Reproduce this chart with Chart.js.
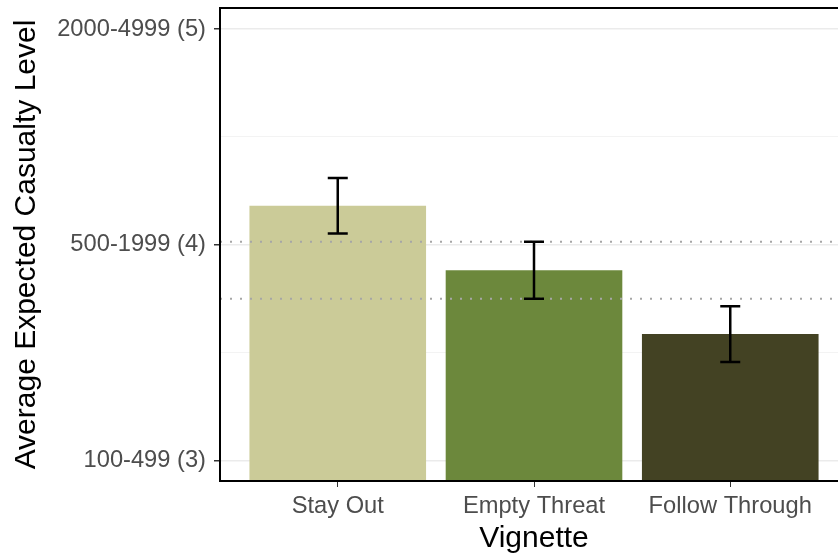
<!DOCTYPE html>
<html>
<head>
<meta charset="utf-8">
<script src="https://cdn.jsdelivr.net/npm/chart.js@4.4.0/dist/chart.umd.min.js"></script>
<style>
  html, body { margin: 0; padding: 0; background: #fff; overflow: hidden; }
  canvas { display: block; }
</style>
</head>
<body>
<canvas id="casualtyChart" width="860" height="558"></canvas>
<script>
const vignettes = ['Stay Out', 'Empty Threat', 'Follow Through'];
const meanLevel = [4.181, 3.881, 3.586];
const ciLower = [4.052, 3.749, 3.456];
const ciUpper = [4.310, 4.014, 3.715];
const barColors = ['#CBCB98', '#6C883C', '#434223'];
const levelTicks = [3, 3.5, 4, 4.5, 5];
const levelLabels = { 3: '100-499 (3)', 4: '500-1999 (4)', 5: '2000-4999 (5)' };
// the Empty Threat interval is marked across the whole panel
const refIndex = 1;

const FONT = "'Liberation Sans', Arial, sans-serif";

// error bars, reference lines and the panel frame
const overlay = {
  id: 'overlay',
  afterDatasetsDraw(chart) {
    const { ctx, chartArea: a, scales: { x, y } } = chart;
    ctx.save();

    ctx.strokeStyle = '#A6A6A6';
    ctx.lineWidth = 2;
    ctx.setLineDash([2, 8]);
    [ciLower[refIndex], ciUpper[refIndex]].forEach(v => {
      const py = y.getPixelForValue(v);
      ctx.beginPath();
      ctx.moveTo(a.left, py);
      ctx.lineTo(a.right, py);
      ctx.stroke();
    });
    ctx.setLineDash([]);

    ctx.strokeStyle = '#000';
    ctx.lineWidth = 2.5;
    vignettes.forEach((_, i) => {
      const px = x.getPixelForValue(i + 1);
      const top = y.getPixelForValue(ciUpper[i]);
      const bot = y.getPixelForValue(ciLower[i]);
      ctx.beginPath();
      ctx.moveTo(px, top); ctx.lineTo(px, bot);
      ctx.moveTo(px - 10, top); ctx.lineTo(px + 10, top);
      ctx.moveTo(px - 10, bot); ctx.lineTo(px + 10, bot);
      ctx.stroke();
    });

    ctx.lineWidth = 2;
    ctx.strokeRect(a.left, a.top, a.right - a.left, a.bottom - a.top);
    ctx.restore();
  }
};

new Chart(document.getElementById('casualtyChart'), {
  type: 'bar',
  data: {
    datasets: [{
      data: vignettes.map((v, i) => ({ x: i + 1, y: meanLevel[i] })),
      backgroundColor: barColors,
      borderWidth: 0,
      categoryPercentage: 0.9,
      barPercentage: 1
    }]
  },
  options: {
    responsive: false,
    animation: false,
    devicePixelRatio: 1,
    layout: { padding: { left: 0, top: 8, right: 12, bottom: 0 } },
    plugins: { legend: { display: false }, tooltip: { enabled: false } },
    scales: {
      x: {
        type: 'linear',
        min: 0.4,
        max: 3.6,
        offset: false,
        afterBuildTicks: s => { s.ticks = vignettes.map((_, i) => ({ value: i + 1 })); },
        afterFit: s => { s.height = 77; s.paddingLeft = 0; s.paddingRight = 0; },
        grid: { offset: false, color: 'rgba(0,0,0,0)', tickColor: '#333', tickLength: 6 },
        border: { display: false },
        ticks: {
          padding: 5,
          color: '#4D4D4D',
          font: { family: FONT, size: 23.7 },
          callback: v => vignettes[v - 1]
        },
        title: {
          display: true,
          text: 'Vignette',
          color: '#000',
          font: { family: FONT, size: 30 },
          padding: { top: 0, bottom: 1 }
        }
      },
      y: {
        min: 2.904,
        max: 5.098,
        afterBuildTicks: s => { s.ticks = levelTicks.map(v => ({ value: v })); },
        afterFit: s => { s.width = 220; s.paddingTop = 0; s.paddingBottom = 0; },
        grid: {
          color: c => Number.isInteger(c.tick.value) ? '#EBEBEB' : '#F3F3F3',
          lineWidth: c => Number.isInteger(c.tick.value) ? 1.5 : 1,
          tickColor: c => Number.isInteger(c.tick.value) ? '#333' : 'rgba(0,0,0,0)',
          tickLength: 6
        },
        border: { display: false },
        ticks: {
          padding: 8,
          color: '#4D4D4D',
          font: { family: FONT, size: 23.7 },
          callback: v => levelLabels[v] || ''
        },
        title: {
          display: true,
          text: 'Average Expected Casualty Level',
          color: '#000',
          font: { family: FONT, size: 30 },
          padding: { top: 9, bottom: 0 }
        }
      }
    }
  },
  plugins: [overlay]
});
</script>
</body>
</html>
